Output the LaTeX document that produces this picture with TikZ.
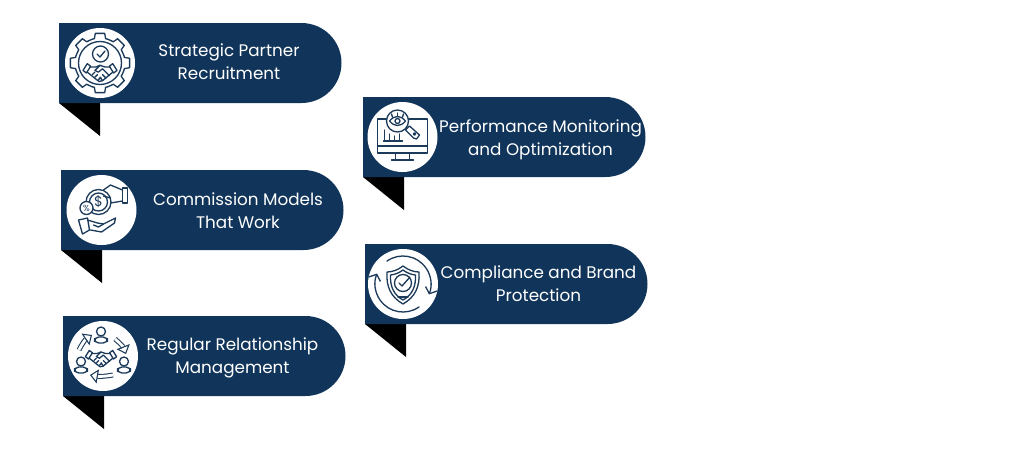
\documentclass[tikz,border=0pt]{standalone}
\usepackage{xcolor}
\usepackage{fontspec}
\setmainfont{Poppins}
\usepackage{tikz}
\usetikzlibrary{arrows.meta}
\definecolor{bannerblue}{HTML}{11355A}
\definecolor{iconblue}{HTML}{1C3B5A}
\tikzset{
  bannertext/.style={text=white, align=center, font=\fontsize{9.55}{13}\selectfont, inner sep=0pt},
  iconline/.style={iconblue, line width=0.75pt, line join=round, line cap=round},
  iconarrow/.style={iconblue, line width=0.6pt, double=white, double distance=1.6pt, -{Triangle[open,length=4.5pt,width=8pt]}},
  banner/.pic={
    \fill [black] (0,80) -- (41,80) -- (41,113) -- cycle;
    \fill [bannerblue] (0,0) -- (242.5,0) arc (-90:90:40) -- (0,80) -- cycle;
  },
  handshake/.pic={
    \draw [iconline] (-20,-3) -- (-15,-11) -- (-11,-8) -- (-16,0) -- cycle;
    \draw [iconline] (20,-3) -- (15,-11) -- (11,-8) -- (16,0) -- cycle;
    \draw [iconline] (-12,-7) -- (-5,-7) -- (0,-9) -- (6,-7) -- (12,-7);
    \draw [iconline] (-15,-1) -- (-5,7) -- (-1,10) -- (3,9) -- (9,4) -- (15,-1);
    \draw [iconline] (0,-9) -- (-6,-3) -- (-2,-1) -- (3,-5) -- (11,3);
    \draw [iconline] (-9,2) -- (-6,-1);
    \draw [iconline] (-6,5) -- (-3,2);
    \draw [iconline] (-2,8) -- (1,5);
    \draw [iconline] (3,9) -- (0,5);
    \draw [iconline] (7,6) -- (3,2);
  },
  person/.pic={
    \draw [iconline] (0,-3.5) circle (4.5);
    \draw [iconline, rounded corners=2.5] (-6.5,8) -- (-6.5,2) -- (6.5,2) -- (6.5,8) -- cycle;
  }
}
\begin{document}
\begin{tikzpicture}[x=0.02cm,y=-0.02cm]
\useasboundingbox (0,0) rectangle (1024,454);

\pic at (59,23) {banner};
\pic at (363,97) {banner};
\pic at (61,170) {banner};
\pic at (365,244) {banner};
\pic at (63,316) {banner};

\node [bannertext] (strategic) at (229,61.5) {Strategic Partner\\Recruitment};
\node [bannertext] (performance) at (540.5,139.5) {Performance Monitoring\\and Optimization};
\node [bannertext] (commission) at (238,210.5) {Commission Models\\That Work};
\node [bannertext] (compliance) at (538.5,283.5) {Compliance and Brand\\Protection};
\node [bannertext] (relationship) at (232.5,357.5) {Regular Relationship\\Management};

% gear
\begin{scope}[shift={(100,63)}]
\fill [white] (0,0) circle (35);
\foreach \a in {0,45,...,315} {
  \draw [iconline] (\a-22.5+5:25) -- (\a-13:25) -- (\a-9:30) -- (\a+9:30) -- (\a+13:25) -- (\a+22.5-5:25);
  \draw [iconline] (\a+17.5:25) to[bend left=3] (\a+27.5:25);
}
\draw [iconline] (0,0) circle (21.5);
\draw [iconline, fill=white] (0.5,-9) circle (8);
\draw [iconline] (-3,-9) -- (0,-6) -- (5,-12);
\pic [scale=0.85] at (0,10) {handshake};
\end{scope}

% monitor
\begin{scope}[shift={(402.5,137)}]
\fill [white] (0,0) circle (35);
\draw [iconline] (-16,-18) -- (-25,-18) -- (-25,16) -- (25,16) -- (25,-18) -- (6,-18);
\draw [iconline] (-25,9) -- (25,9);
\draw [iconline] (-7,16) -- (-7,23);
\draw [iconline] (7,16) -- (7,23);
\draw [iconline] (-11,23) -- (11,23);
\draw [iconline] (-19,4) -- (0,4);
\draw [iconline] (-18,4) -- (-18,-7);
\draw [iconline] (-13,4) -- (-13,-3);
\draw [iconline] (-8,4) -- (-8,-1);
\draw [iconline] (-3,4) -- (-3,-3);
\draw [iconline, fill=white] (-5,-16) circle (11);
\draw [iconline] (-13,-16) .. controls (-8,-22) and (-2,-22) .. (3,-16) .. controls (-2,-10) and (-8,-10) .. (-13,-16);
\draw [iconline] (-5,-16) circle (2.5);
\draw [iconline] (-5,-21) -- (-5,-24);
\draw [iconline] (-10,-20) -- (-11,-23);
\draw [iconline] (0,-20) -- (1,-23);
\draw [iconline, fill=white] (3,-7) -- (7,-11) -- (17,-2) -- (14,2) -- (11,1) -- cycle;
\draw [iconline] (12,-3) circle (1.2);
\end{scope}

% coins
\begin{scope}[shift={(101.5,210)}]
\fill [white] (0,0) circle (35);
\draw [iconline] (-3,-8) circle (12.5);
\draw [iconline, fill=white] (-3,-8) circle (9);
\node [text=iconblue, font=\fontsize{8}{8}\selectfont, inner sep=0pt] (dollar) at (-3,-8) {\$};
\draw [iconline, fill=white] (-15,-2) circle (6.5);
\node [text=iconblue, font=\fontsize{5}{5}\selectfont, inner sep=0pt] (percent) at (-15,-2) {\%};
\draw [iconline] (21,-22) -- (26,-22) -- (26,-7) -- (21,-7) -- cycle;
\draw [iconline] (21,-20) -- (9,-25) -- (2,-20);
\draw [iconline] (21,-9) -- (9,-7);
\draw [iconline] (9,-12) -- (2,-14);
\draw [iconline] (-23,10) -- (-14,8) -- (-12,20) -- (-19,24) -- cycle;
\draw [iconline] (-14,10) -- (-4,13) -- (2,14) -- (14,8) -- (13,13) -- (0,22) -- (-11,20);
\draw [iconline] (2,14) -- (-3,17) -- (-8,15);
\end{scope}

% shield
\begin{scope}[shift={(403,284)}]
\fill [white] (0,0) circle (35);
\draw [iconline] (0,-18) .. controls (5,-14) and (11,-12) .. (16,-12) .. controls (17,3) and (12,13) .. (0,20) .. controls (-12,13) and (-17,3) .. (-16,-12) .. controls (-11,-12) and (-5,-14) .. (0,-18) -- cycle;
\draw [iconline] (0,-14) .. controls (4,-11) and (8,-9.5) .. (12.5,-9) .. controls (13,3) and (9,11) .. (0,16) .. controls (-9,11) and (-13,3) .. (-12.5,-9) .. controls (-8,-9.5) and (-4,-11) .. (0,-14) -- cycle;
\draw [iconline] (0,-1) circle (8.5);
\draw [iconline] (-4,-1) -- (-1,2) -- (7,-7);
\draw [iconline] (-5,13) -- (5,13);
\draw [iconline, -{Straight Barb[length=3pt,width=7pt]}] (-125:28) arc (-125:22:28);
\draw [iconline, -{Straight Barb[length=3pt,width=7pt]}] (55:28) arc (55:202:28);
\end{scope}

% partners
\begin{scope}[shift={(103,356)}]
\fill [white] (0,0) circle (35);
\pic at (-2,-21) {person};
\pic at (-22,9) {person};
\pic at (21,9) {person};
\pic [scale=0.78] at (-2,3) {handshake};
\draw [iconarrow] (-24,-6) to[bend left=15] (-11,-21);
\draw [iconarrow] (12,-17) to[bend left=15] (23,-2);
\draw [iconarrow] (10,19) to[bend left=10] (-13,19);
\end{scope}

\end{tikzpicture}
\end{document}
